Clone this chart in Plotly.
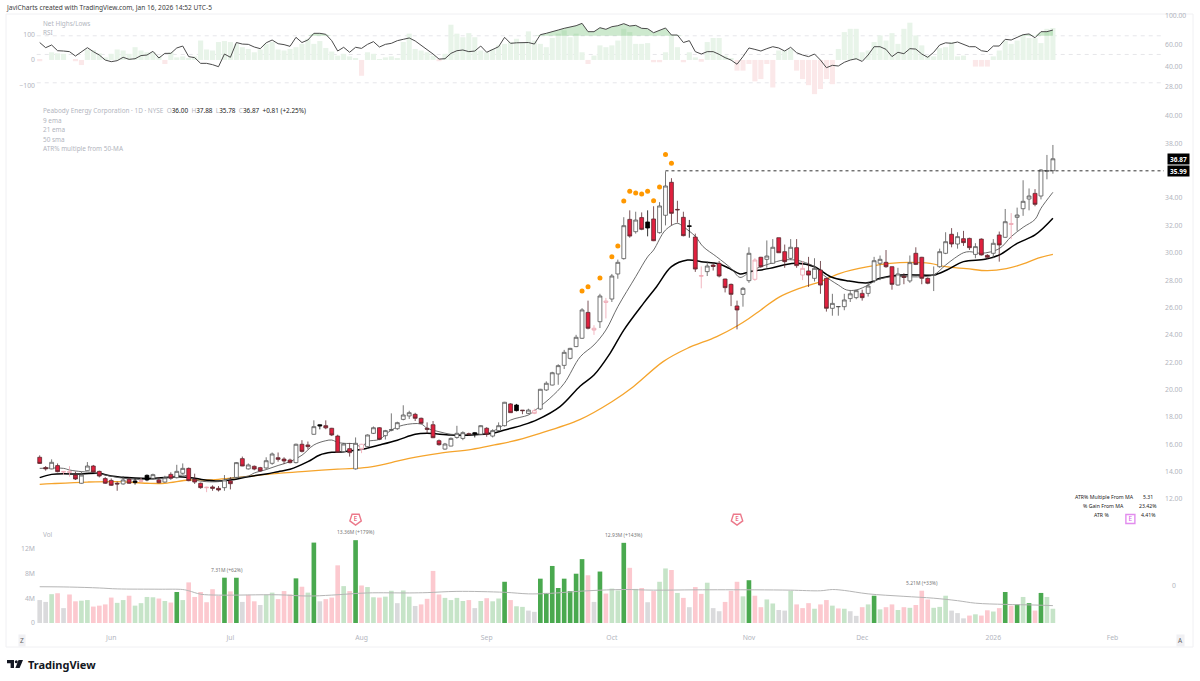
import plotly.graph_objects as go

W, H = 1200, 681
bar_index = list(range(171))

open_ = [15.05,14.3,14.2,14.44,14.02,14.02,13.75,13.15,14.07,14.41,
14.02,13.49,13.36,13.15,13.1,13.44,13.32,13.35,13.73,13.51,
13.39,13.24,13.8,13.56,13.88,14.24,13.44,13.15,12.87,12.88,
12.78,12.83,13.32,13.58,14.95,14.2,14.39,14.29,14.27,14.61,
15.02,14.92,14.85,14.66,16.0,15.95,16.73,17.43,17.36,17.17,
16.6,15.46,15.68,14.2,16.0,15.83,16.8,17.21,16.63,17.02,
17.14,17.82,18.07,18.19,17.9,17.17,17.43,16.26,15.65,15.87,
16.5,16.43,16.77,16.85,16.73,17.17,16.6,17.0,17.36,18.95,
18.87,18.5,18.26,18.46,18.58,19.97,20.33,21.14,21.77,22.28,
23.14,23.75,25.64,24.48,24.96,26.47,26.62,28.45,29.57,32.44,
31.54,32.57,32.25,32.47,31.47,32.74,35.15,33.17,32.59,31.97,
31.15,28.33,28.62,29.1,29.23,28.08,27.69,26.11,26.96,27.96,
28.06,29.67,29.52,29.23,31.1,30.08,29.59,30.37,28.37,28.67,
28.13,28.74,28.13,25.94,26.05,26.06,26.65,26.72,27.03,27.03,
27.96,29.23,29.3,28.98,27.64,28.28,27.94,29.96,29.67,28.13,
28.35,28.98,29.96,31.35,30.64,31.03,31.05,29.88,31.0,29.81,
29.96,31.3,31.13,32.14,32.59,33.22,33.93,34.34,34.15,35.97,36.0]

close = [14.6,14.2,14.68,14.0,13.98,13.95,13.46,13.75,14.41,13.97,
13.68,13.15,13.0,13.1,13.39,13.15,13.2,13.3,13.39,13.78,
13.19,13.56,13.51,14.02,14.24,13.34,13.24,12.83,12.83,12.78,
12.66,13.39,13.12,14.66,14.41,14.49,14.19,14.05,14.8,15.29,
14.9,14.78,14.66,16.0,15.48,15.83,17.29,17.34,17.2,16.68,
15.41,16.02,15.39,16.07,15.63,16.68,17.21,16.36,17.0,17.07,
17.58,18.14,18.31,17.9,17.53,17.1,16.48,15.97,16.02,16.43,
16.8,16.85,16.73,16.75,17.36,16.73,17.0,17.36,19.07,18.31,
18.46,18.46,18.5,18.26,20.02,20.46,21.23,21.75,22.72,23.01,
23.82,25.82,24.48,24.35,26.84,26.38,28.3,29.3,31.98,31.22,
32.39,31.71,31.81,30.88,33.42,34.88,32.88,33.14,31.25,31.93,
28.81,28.3,29.03,29.0,28.3,27.45,26.96,25.82,27.4,29.96,
29.47,28.98,29.76,30.4,30.0,29.35,30.4,29.06,28.86,28.37,
28.86,27.64,25.94,26.3,26.07,26.55,27.0,27.23,26.72,27.57,
29.42,29.52,28.98,27.69,28.45,28.2,29.28,29.15,28.13,27.77,
28.4,30.08,30.81,30.64,31.18,30.74,30.37,30.45,29.84,29.67,
30.69,30.57,32.27,32.08,32.76,33.76,34.15,33.54,36.05,35.99,36.87]

high = [15.19,14.41,14.9,14.6,14.05,14.4,14.0,13.99,14.7,14.49,
14.07,13.6,13.5,13.27,13.68,13.58,13.5,13.55,13.8,13.85,
13.6,13.7,13.95,14.5,14.6,14.3,13.85,13.2,12.9,13.0,
12.95,13.75,13.6,14.7,15.1,14.6,14.45,14.35,15.05,15.4,
15.4,15.05,14.95,16.05,16.3,16.2,17.75,17.46,17.75,17.2,
16.7,16.1,16.1,16.5,16.03,16.72,17.3,17.25,17.05,18.26,
17.65,18.85,18.45,18.3,17.95,17.6,17.7,16.35,16.1,16.5,
17.35,16.95,16.85,16.9,17.4,17.25,17.1,17.6,19.1,19.0,
18.95,18.5,18.6,18.6,20.05,20.6,21.3,21.85,22.9,23.05,
24.0,25.95,26.5,24.7,27.0,26.7,28.45,29.5,32.6,33.1,
33.0,32.95,33.1,33.4,33.7,35.95,35.45,33.8,33.0,32.4,
31.4,29.0,29.35,29.3,29.4,28.1,27.75,26.5,27.5,30.4,
29.6,29.7,30.9,31.0,31.1,30.6,31.0,31.0,29.4,29.7,
29.6,29.4,28.1,27.0,26.1,27.0,27.2,27.3,27.3,27.9,
29.7,29.8,30.2,29.0,28.9,28.5,29.8,30.4,29.7,28.2,
29.0,30.3,31.5,31.8,31.5,31.6,31.1,30.7,31.05,29.9,
31.0,31.55,33.2,32.9,33.3,35.3,34.7,34.65,36.1,37.15,37.88]

low = [14.56,14.07,14.17,13.95,13.75,13.63,13.39,13.12,14.05,13.93,
13.58,13.1,12.95,12.6,13.05,13.1,13.05,13.2,13.3,13.4,
13.15,13.2,13.4,13.5,13.8,13.3,13.1,12.75,12.5,12.6,
12.55,12.6,12.7,13.5,14.4,14.15,14.1,14.0,14.2,14.5,
14.73,14.55,14.6,14.6,15.4,15.63,16.7,17.09,17.1,16.6,
15.38,15.4,15.1,14.15,15.35,15.7,16.75,16.3,16.35,16.95,
17.05,17.75,17.85,17.7,17.5,16.8,16.45,15.9,15.6,15.85,
16.4,16.3,16.65,16.5,16.7,16.55,16.5,16.95,17.3,18.3,
18.4,18.2,18.2,18.2,18.5,19.9,20.3,20.35,21.5,22.2,
23.1,23.7,24.4,24.0,24.5,25.2,26.4,28.1,29.5,31.1,
31.4,31.65,31.2,30.85,31.4,32.0,32.0,32.2,31.2,31.1,
28.6,27.4,28.3,28.7,28.2,27.1,26.1,24.4,26.06,27.8,
27.95,28.9,28.9,29.2,30.0,28.9,29.5,28.9,28.0,27.5,
27.9,27.0,25.7,25.4,25.4,25.8,26.4,26.6,26.5,26.8,
27.8,28.0,28.9,27.3,27.6,27.7,27.8,29.1,27.7,27.7,
27.2,28.9,29.9,30.4,30.3,30.5,30.2,29.6,29.8,29.55,
29.6,29.35,31.1,31.0,31.6,32.7,33.1,33.4,33.9,35.37,35.78]

pink_bars = [4,5,17,28,54,83,93,95,111,120,128,163]
black_bars = [16,18,47,73,80,102,109]

ema9_x = [0,4,5,7,9,11,13,16,19,21,24,25,26,30,32,35,36,38,40,42,44,46,48,49,50,51,53,54,55,57,59,61,64,65,67,69,71,73,75,77,79,82,83,
          85.6,88,90.7,93,95,97,100,102,103,105,107,108,110,111.3,113.6,116,117.5,119,120.3,122.5,124.8,126.7,128,130,131.5,134,135.4,137,139,140.4,143,145,148,150,152,153.5,155,156,158,161,163,165,167,168,170]
ema9_y = [14.24,14.24,14.12,14.0,13.93,13.75,13.58,13.44,13.44,13.51,13.75,13.63,13.39,13.27,13.51,13.68,13.9,14.15,14.45,14.73,15.2,15.95,16.26,16.31,16.14,16.07,16.02,15.78,16.2,16.36,17.04,17.4,17.48,17.17,16.92,16.73,16.7,16.75,16.8,17.17,17.77,18.14,18.45,
          19.36,20.45,22.4,23.26,24.35,26.06,28.25,29.7,30.2,31.66,32.15,31.9,31.2,30.45,29.7,28.86,28.2,28.55,28.86,29.2,29.47,29.47,29.35,28.98,28.37,27.64,27.28,27.28,27.64,28.0,28.25,28.25,28.25,28.38,29.1,29.6,30.0,30.08,29.96,30.3,31.18,31.86,32.44,33.25,34.42]

ema21_x = [0,2,7,10,12,16,19,23,25,27,30,32,35,38,40,42,45,47,49,51,54,57,60,63,65,69,72.5,76,78,81,83.5,87.3,90.7,93,95.7,98,101.3,103.5,106,108.7,111,114,115.7,117.5,119,122.5,124.8,127,130,132.7,135.4,139,141,144.4,148,150,152.2,155,158.6,161,164,167,170]
ema21_y = [13.56,13.8,13.83,13.88,13.68,13.53,13.51,13.63,13.58,13.44,13.32,13.39,13.63,13.83,14.0,14.17,14.73,15.22,15.41,15.46,15.63,15.95,16.3,16.73,16.8,16.68,16.68,16.8,17.04,17.4,17.8,18.75,20.26,21.06,22.65,24.35,26.3,27.52,28.98,29.47,29.35,29.18,28.86,28.45,28.6,28.86,29.1,29.23,28.98,28.25,27.96,27.8,28.13,28.37,28.37,28.37,28.74,29.35,29.52,29.84,30.69,31.3,32.52]

sma50_x = [0,2,8,13,18,21,25,28,30,33,37,40,44,50,55,59,62,67,72.5,76.3,79,83.4,90.7,96,99.6,104.6,108.6,113.6,117,119,121,124,127.5,131,134.3,139,142.7,146,149.4,152,155.5,159,162.2,165,167.5,170]
sma50_y = [13.07,13.12,13.24,13.27,13.15,13.15,13.39,13.39,13.44,13.56,13.75,13.88,14.0,14.19,14.31,14.66,14.97,15.34,15.63,15.95,16.19,16.73,17.82,19.11,20.21,22.04,23.0,23.87,24.65,25.2,25.82,26.74,27.4,27.89,28.5,28.98,29.23,29.3,29.23,28.98,28.84,28.69,28.84,29.18,29.6,29.88]

dots_x = [91,92,94,96,97,98,99,100,101,102,103,104,105,106]
dots_y = [27.2,27.52,28.16,29.71,30.49,33.78,34.49,34.37,34.3,34.49,33.81,34.81,37.19,36.54]

volume = [3.7,3.4,4.65,4.8,2.4,4.6,3.5,3.6,3.7,2.65,
2.8,3.0,4.1,3.25,3.7,4.4,2.8,3.2,4.2,4.15,
3.95,3.55,3.3,5.0,3.7,6.55,4.2,5.0,3.35,5.45,
4.4,7.31,5.1,7.3,3.4,4.55,3.5,2.9,4.55,4.9,
3.85,5.15,4.6,7.2,5.85,4.9,12.97,3.5,3.85,4.1,
9.3,5.95,5.15,13.36,6.05,5.8,4.15,4.1,4.25,5.2,
3.2,5.25,4.25,2.75,3.0,3.9,8.4,4.6,4.05,3.7,
4.05,3.55,3.7,2.4,3.55,4.0,3.5,3.95,6.65,3.7,
2.7,2.6,2.0,1.8,7.15,4.85,9.2,5.65,7.15,5.15,
7.95,10.3,7.7,3.4,8.3,4.75,5.55,5.25,12.93,8.9,
5.5,5.65,3.35,5.15,6.65,8.8,8.55,4.85,4.05,2.55,
5.8,4.7,6.5,2.4,1.9,3.4,5.2,6.65,4.3,6.9,
4.4,2.55,3.8,3.15,2.1,2.0,5.2,3.0,2.4,3.2,
2.3,3.0,3.7,2.8,2.35,2.3,1.9,1.15,2.55,3.0,
4.4,2.2,2.55,3.0,2.1,2.55,2.45,2.9,5.21,3.8,
2.45,2.6,4.4,2.0,1.6,0.75,1.2,1.4,1.2,2.05,
1.85,2.4,5.0,2.8,3.0,4.2,3.2,2.0,4.85,4.2,2.3]

volume_kind = list(
    "gglpgppllp" "pppllpllll" "plpdlppppp" "pdpdgppgll" "pppdpldgpp"
    "plpdpllpll" "gllgppppll" "llpglplldp" "llggdddddd" "ddpgdplldp"
    "lpgpllplpg" "pplggpppld" "ppllgglppp" "lpplplggpl" "dlpplplppp"
    "lllgggplpp" "lpdpdldpdll")

vol_ma_x = [0,5,10,13,20,24,25,27,30,40,45,49,55,62,65,70,78,82,85,92,98,103,110,120,126,131,133,135,139,145,150,154,157,162,167,170]
vol_ma_y = [5.85,5.8,5.65,5.5,5.45,5.4,5.2,4.65,4.5,4.55,4.35,4.5,4.85,4.85,4.9,5.1,4.95,4.7,4.75,5.2,5.4,5.3,5.35,5.35,5.3,5.2,5.4,5.25,4.7,4.3,4.0,3.6,3.2,3.0,2.9,2.8]

rsi = [62,56.5,59.3,53.5,53.2,52.6,48.6,52.6,56.5,52.6,
49.5,45.2,43.9,44.7,47.5,45.8,46.3,49,49.5,52.9,
46.9,51,51,56.2,58.2,48.1,47.2,42.6,42.6,41.6,
40.1,50.4,47.5,62,60.3,60,57.2,55.5,61.7,64.9,
60.7,59.7,57.9,68.1,62,64.9,73.2,73.2,71.9,64.1,
53.2,56.9,52,56.9,55.8,60,63,57.2,60,61.1,
64.1,65.7,67.3,63.8,59.3,54.8,50.4,46,46.3,51,
53.5,54.2,52.6,53.2,58.2,52,54.8,57.5,68.1,61.1,
61.7,61.7,62,60.3,71.4,73.2,75.9,77.7,80.1,81.5,
84,87.6,75.4,75.4,81,78.7,82.5,84,87.1,83.5,
84.5,80.1,79.6,74,77.7,80.6,71,71,62,64.1,
52.6,50.4,52.6,52.6,50.1,47.2,45.2,41.9,48.1,56.2,
54.8,53.2,55.5,57.5,56.2,53.2,56.9,51.6,49.5,48.1,
50.4,45.2,39.4,41.1,40.6,43.4,45.2,46.3,44.1,49.5,
57.5,57.5,54.8,48.1,52,50.7,55.5,55.1,50.4,47.5,
52,59.3,61.7,61.1,62.6,60.3,57.5,57.5,53.5,52.6,
58.2,58.2,65.7,64.9,68.1,71.4,72.4,67.6,75.4,75.4,77.7]

net_highs_lows = [-5,0,30,26,24,0,-5,-20,41,39,
26,10,24,41,37,24,50,37,30,30,
14,-16,30,10,14,6,14,76,41,37,
70,74,70,63,50,43,30,41,63,70,
41,37,43,50,63,83,63,74,47,33,
17,24,14,7,-62,30,24,1,10,14,
7,70,103,43,37,30,17,-5,24,138,
103,89,105,89,37,30,43,57,63,70,
83,70,112,76,63,50,86,103,116,89,
103,30,-16,17,57,50,57,76,122,109,
63,63,66,-9,-9,30,96,50,-9,30,
10,-7,70,86,86,17,4,-42,-42,-16,
-84,-75,-16,-108,37,37,43,-42,-75,-99,
-134,-114,-75,-95,43,109,122,122,30,37,
70,96,76,105,63,122,146,96,57,17,
14,46,50,70,14,17,0,-26,-26,-26,
14,37,76,63,76,93,86,86,66,122,125]

earnings_bars = [53,117,183]
month_ticks = [12,32,54,75,96,119,138,160,180]
month_labels = ["Jun","Jul","Aug","Sep","Oct","Nov","Dec","2026","Feb"]
price_ticks = [12,14,16,18,20,22,24,26,28,30,32,34,38,40]
rsi_ticks = [28,40,60,100]
net_ticks = [-100,0,100]
vol_ticks = [0,4,8,12]
vol_tick_labels = ["0","4M","8M","12M"]

last_close, prior_high = 36.87, 35.99
GREY = "#b2b5be"


def dom(top, bottom):
    return [1 - bottom / H, 1 - top / H]


def px(x):
    return x / W


def py(y):
    return 1 - y / H


kinds = []
for i in bar_index:
    if i in pink_bars:
        kinds.append("p")
    elif i in black_bars:
        kinds.append("b")
    else:
        kinds.append("u" if close[i] >= open_[i] else "d")

fig = go.Figure()

# net highs/lows histogram + RSI
net_colors = ["#e8f4e9" if v >= 0 else "#fbe8e9" for v in net_highs_lows]
fig.add_trace(go.Bar(x=bar_index, y=net_highs_lows, marker_color=net_colors, marker_line_width=0,
                     width=0.86, yaxis="y2", showlegend=False, hoverinfo="skip"))
fig.add_trace(go.Scatter(x=bar_index, y=[70] * 171, mode="lines", line=dict(width=0), yaxis="y3",
                         showlegend=False, hoverinfo="skip"))
fig.add_trace(go.Scatter(x=bar_index, y=[max(v, 70) for v in rsi], mode="lines", line=dict(width=0),
                         fill="tonexty", fillcolor="rgba(76,175,80,0.28)", yaxis="y3",
                         showlegend=False, hoverinfo="skip"))
fig.add_trace(go.Scatter(x=bar_index, y=rsi, mode="lines", line=dict(color="#4a4a4a", width=1), yaxis="y3",
                         showlegend=False, hoverinfo="skip"))

# moving averages (under the candles)
fig.add_trace(go.Scatter(x=sma50_x, y=sma50_y, mode="lines", line=dict(color="#f5a42c", width=1.3, shape="spline"),
                         showlegend=False, hoverinfo="skip"))
fig.add_trace(go.Scatter(x=ema21_x, y=ema21_y, mode="lines", line=dict(color="#000000", width=1.5, shape="spline"),
                         showlegend=False, hoverinfo="skip"))
fig.add_trace(go.Scatter(x=ema9_x, y=ema9_y, mode="lines", line=dict(color="#5a5a5a", width=0.9, shape="spline"),
                         showlegend=False, hoverinfo="skip"))
fig.add_trace(go.Scatter(x=dots_x, y=dots_y, mode="markers", marker=dict(color="#ff9800", size=5),
                         showlegend=False, hoverinfo="skip"))

# candles, one trace per look; every trace keeps all bar positions so body widths agree
styles = {"u": ("#ffffff", "#555555"), "d": ("#e0203e", "#5a2a30"),
          "p": ("#ffffff", "#eda3b0"), "b": ("#000000", "#000000")}
for k, (fill, edge) in styles.items():
    pick = lambda arr: [arr[i] if kinds[i] == k else None for i in bar_index]
    fig.add_trace(go.Candlestick(
        x=bar_index, open=pick(open_), high=pick(high), low=pick(low), close=pick(close),
        increasing=dict(fillcolor=fill, line=dict(color=edge, width=0.8)),
        decreasing=dict(fillcolor=fill, line=dict(color=edge, width=0.8)),
        whiskerwidth=0, yaxis="y5", showlegend=False, hoverinfo="skip"))

# volume
vol_colors = {"g": "#dadadc", "l": "#c6e4c8", "p": "#fcc9cf", "d": "#4aa94f"}
fig.add_trace(go.Bar(x=bar_index, y=volume, marker_color=[vol_colors[c] for c in volume_kind],
                     marker_line_width=0, width=0.78, yaxis="y4", showlegend=False, hoverinfo="skip"))
fig.add_trace(go.Scatter(x=vol_ma_x, y=vol_ma_y, mode="lines", line=dict(color="#b5b5b5", width=1, shape="spline"),
                         yaxis="y4", showlegend=False, hoverinfo="skip"))

# earnings markers in the strip above the volumes
fig.add_trace(go.Scatter(
    x=earnings_bars, y=[16.77] * 3, yaxis="y4", mode="markers+text", text=["E", "E", "E"],
    textposition="middle center", textfont=dict(size=6.5, family="Noto Sans", color=["#e4405a", "#e4405a", "#d65ce8"]),
    marker=dict(symbol=["pentagon", "pentagon", "square"], angle=[180, 180, 0], size=[12, 12, 9], color="#ffffff",
                line=dict(color=["#e4405a", "#e4405a", "#d65ce8"], width=1.4)),
    cliponaxis=False, showlegend=False, hoverinfo="skip"))

XR = [(6 - 39.7) / 5.96, (1164 - 39.7) / 5.96]
font = "Noto Sans"
shapes = [
    dict(type="rect", xref="paper", yref="paper", x0=px(6), x1=px(1193), y0=py(647), y1=py(14),
         line=dict(color="#f0f0f3", width=1), layer="below"),
    dict(type="line", xref="x", yref="y", x0=105, x1=XR[1], y0=prior_high, y1=prior_high,
         line=dict(color="#333333", width=1, dash="3px,3px")),
]
for lvl in [70, 50, 30]:
    shapes.append(dict(type="line", xref="x", yref="y3", x0=-0.5, x1=XR[1], y0=lvl, y1=lvl,
                       line=dict(color="#e6e6ea", width=1, dash="4px,4px"), layer="below"))
# TradingView logo
shapes += [
    dict(type="path", xref="paper", yref="paper", fillcolor="#131722", line=dict(width=0),
         path=f"M {px(7)} {py(660)} L {px(14)} {py(660)} L {px(14)} {py(668)} L {px(10.6)} {py(668)} L {px(10.6)} {py(663.3)} L {px(7)} {py(663.3)} Z"),
    dict(type="path", xref="paper", yref="paper", fillcolor="#131722", line=dict(width=0),
         path=f"M {px(18.5)} {py(660)} L {px(23)} {py(660)} L {px(19.6)} {py(668)} L {px(15.4)} {py(668)} Z"),
    dict(type="circle", xref="paper", yref="paper", fillcolor="#131722", line=dict(width=0),
         x0=px(14.8), x1=px(17.8), y0=py(663.2), y1=py(660.2)),
]

ann = []


def note(x, y, text, size=6.4, color=GREY, anchor="left", **kw):
    ann.append(dict(xref="paper", yref="paper", x=px(x), y=py(y), text=text, showarrow=False, xanchor=anchor,
                    yanchor="middle", font=dict(size=size, color=color, family=font), borderpad=kw.pop("borderpad", 0), **kw))


note(5, 8, "JaviCharts created with TradingView.com, Jan 16, 2026 14:52 UTC-5", size=6.6, color="#3c3c3c")
note(42, 23, "Net Highs/Lows")
note(42, 32, "RSI")
g = lambda s: f'<span style="color:{GREY}">{s}</span>'
note(42, 110, "Peabody Energy Corporation · 1D · NYSE  " + g("O") + '<span style="color:#222">36.00  </span>'
     + g("H") + '<span style="color:#222">37.88  </span>' + g("L") + '<span style="color:#222">35.78  </span>'
     + g("C") + '<span style="color:#222">36.87  +0.81 (+2.25%)</span>')
note(42, 120, "9 ema")
note(42, 129, "21 ema")
note(42, 139, "50 sma")
note(42, 148, "ATR% multiple from 50-MA")
note(42, 534, "Vol")
note(1104, 497, "ATR% Multiple From MA", size=5.2, color="#222", anchor="center")
note(1103, 506, "% Gain From MA", size=5.2, color="#222", anchor="center")
note(1101, 515, "ATR %", size=5.2, color="#222", anchor="center")
note(1148, 497, "5.31", size=5.2, color="#222", anchor="center")
note(1148, 506, "23.42%", size=5.2, color="#222", anchor="center")
note(1148, 515, "4.41%", size=5.2, color="#222", anchor="center")
note(1171, 585, "0", size=6.8)
note(21.5, 640, "Z", size=6.5, color="#666", anchor="center", bgcolor="#f0f0f3", borderpad=1)
note(1180, 640, "A", size=6.5, color="#666", anchor="center", bgcolor="#f0f0f3", borderpad=1)
note(27, 664, "<b>TradingView</b>", size=11, color="#131722")

for tag_y in [last_close, prior_high]:
    ann.append(dict(xref="paper", yref="y", x=px(1166.5), y=tag_y, xanchor="left", yanchor="middle", showarrow=False,
                    text=f"<b>{tag_y:.2f}</b>", bgcolor="#000000", borderpad=0, width=21, height=10, align="center",
                    font=dict(size=6.5, color="#ffffff", family=font)))
for i, v, label in [(31.5, 7.31, "7.31M (+62%)"), (53, 13.36, "13.36M (+179%)"),
                    (98, 12.93, "12.93M (+143%)"), (148, 5.21, "5.21M (+33%)")]:
    ann.append(dict(xref="x", yref="y4", x=i, y=v, yanchor="bottom", xanchor="center", showarrow=False, text=label,
                    yshift=3, font=dict(size=5, color="#777777", family=font)))

axis_font = dict(size=6.8, color=GREY, family=font)
fig.update_layout(
    width=W, height=H, margin=dict(l=0, r=0, t=0, b=0, pad=0, autoexpand=False), paper_bgcolor="#ffffff",
    plot_bgcolor="#ffffff", showlegend=False, barmode="overlay", boxgap=0.08, shapes=shapes, annotations=ann,
    xaxis=dict(domain=[px(6), px(1164)], range=XR, anchor="free", position=py(632), tickmode="array",
               tickvals=month_ticks, ticktext=month_labels, showgrid=False, zeroline=False, ticks="",
               rangeslider=dict(visible=False), tickfont=axis_font, showline=False, automargin=False),
    yaxis=dict(domain=dom(106, 510), range=[12 - 11 / 13.68, 12 + 393 / 13.68], side="right", tickmode="array",
               tickvals=price_ticks, tickformat=".2f", showgrid=False, zeroline=False, tickfont=axis_font, ticks="",
               automargin=False),
    yaxis5=dict(domain=dom(106, 510), range=[12 - 11 / 13.68, 12 + 393 / 13.68], overlaying="y", visible=False),
    yaxis2=dict(domain=dom(14, 100), range=[-157, 180], anchor="free", position=px(35), side="left", tickmode="array",
                tickvals=net_ticks, ticktext=["100" if v == 100 else "0" if v == 0 else "\u2212100" for v in net_ticks],
                showgrid=False, zeroline=False, tickfont=axis_font, ticks="", automargin=False),
    yaxis3=dict(domain=dom(14, 100), type="log", range=[1.3424, 2.0158], overlaying="y2", side="right",
                anchor="x", tickmode="array", tickvals=rsi_ticks, tickformat=".2f", showgrid=False, zeroline=False,
                tickfont=axis_font, ticks="", automargin=False),
    yaxis4=dict(domain=dom(512, 628), range=[-5 / 6.2, 111 / 6.2], anchor="free", position=px(35), side="left",
                tickmode="array", tickvals=vol_ticks, ticktext=vol_tick_labels, showgrid=False, zeroline=False,
                tickfont=axis_font, ticks="", automargin=False),
)

fig.write_html("out.html", config=dict(displayModeBar=False),
               post_script="document.body.style.margin='0';")
